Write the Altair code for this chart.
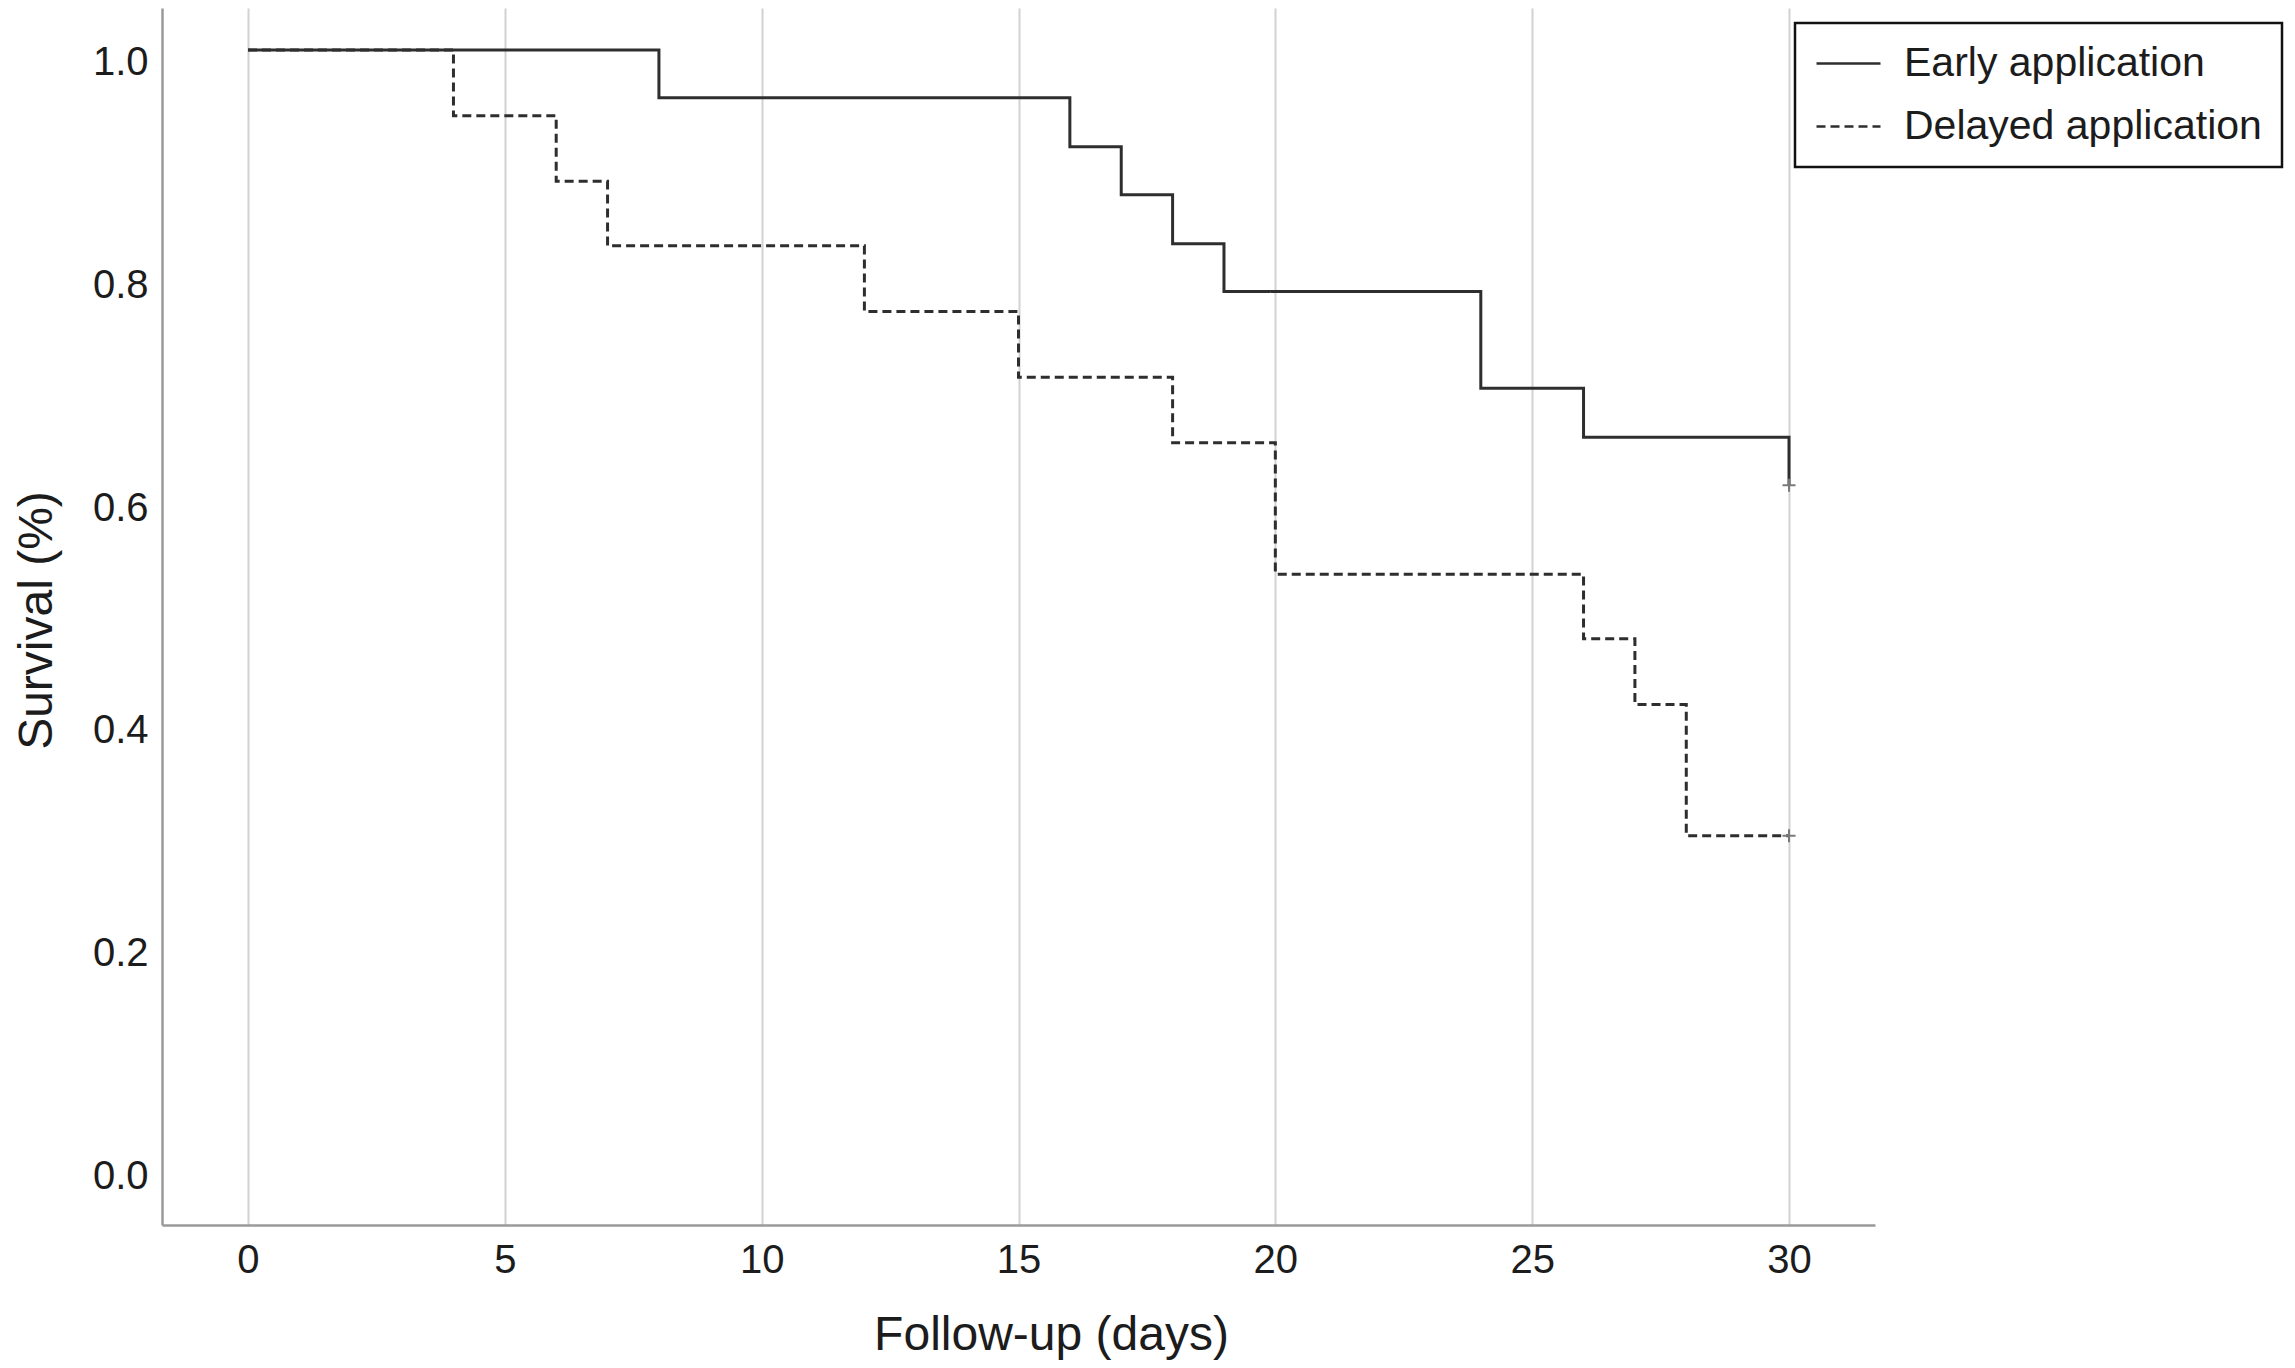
import altair as alt
import pandas as pd

# ---- data ----
groups = ["Early application", "Delayed application"]

early_days = [0, 8, 16, 17, 18, 19, 24, 26, 30]
early_surv = [1.0, 0.957, 0.913, 0.870, 0.826, 0.783, 0.696, 0.652, 0.609]

delayed_days = [0, 4, 6, 7, 12, 15, 18, 20, 26, 27, 28, 30]
delayed_surv = [1.0, 0.941, 0.882, 0.824, 0.765, 0.706, 0.647, 0.529, 0.471, 0.412, 0.294, 0.294]

censor_days = [30, 30]
censor_surv = [0.609, 0.294]

x_ticks = [0, 5, 10, 15, 20, 25, 30]
y_ticks = [0.0, 0.2, 0.4, 0.6, 0.8, 1.0]

FONT = "Liberation Sans"
TEXT = "#1c1c1c"

curves = pd.DataFrame(
    {
        "day": early_days + delayed_days,
        "survival": early_surv + delayed_surv,
        "group": [groups[0]] * len(early_days) + [groups[1]] * len(delayed_days),
    }
)
censor = pd.DataFrame({"day": censor_days, "survival": censor_surv})

x_scale = alt.Scale(domain=[-1.674, 31.674], nice=False, zero=False)
y_scale = alt.Scale(domain=[-0.0557, 1.0377], nice=False, zero=False)

x_axis = alt.Axis(
    values=x_ticks,
    format="d",
    title="Follow-up (days)",
    grid=True,
    gridColor="#d2d2d2",
    gridWidth=2,
    ticks=False,
    tickSize=0,
    labelPadding=15,
    titleX=889,
    titleY=124,
    titleAlign="center",
    titleBaseline="alphabetic",
)
y_axis = alt.Axis(
    values=y_ticks,
    format=".1f",
    title="Survival (%)",
    grid=False,
    ticks=False,
    tickSize=0,
    labelPadding=14,
    labelOffset=13,
    titleAngle=270,
    titleX=-111,
    titleY=612,
    titleAlign="center",
    titleBaseline="alphabetic",
)

lines = (
    alt.Chart(curves)
    .mark_line(interpolate="step-after", strokeWidth=3, color="#2e2e2e", strokeCap="butt")
    .encode(
        x=alt.X("day:Q", scale=x_scale, axis=x_axis),
        y=alt.Y("survival:Q", scale=y_scale, axis=y_axis),
        strokeDash=alt.StrokeDash(
            "group:N",
            scale=alt.Scale(domain=groups, range=[[1, 0], [9, 5]]),
            legend=alt.Legend(
                title=None,
                orient="none",
                legendX=1633,
                legendY=15,
                padding=20,
                strokeColor="#111111",
                fillColor="#ffffff",
                labelFont=FONT,
                labelFontSize=41,
                labelColor=TEXT,
                labelOffset=22,
                labelLimit=0,
                symbolType="stroke",
                symbolSize=4096,
                symbolStrokeWidth=2.5,
                symbolStrokeColor="#2e2e2e",
                clipHeight=41,
                rowPadding=21,
            ),
        ),
    )
)

marks = (
    alt.Chart(censor)
    .mark_point(
        shape="M-1,0L1,0M0,-1L0,1",
        filled=False,
        stroke="#7a7a7a",
        strokeWidth=2,
        size=170,
        opacity=1,
    )
    .encode(
        x=alt.X("day:Q", scale=x_scale, axis=x_axis),
        y=alt.Y("survival:Q", scale=y_scale, axis=y_axis),
    )
)

chart = (
    alt.layer(lines, marks)
    .properties(
        width=1713,
        height=1217,
        autosize=alt.AutoSizeParams(type="none"),
        padding={"left": 154, "top": 0, "right": 412, "bottom": 135},
    )
    .configure_view(strokeWidth=0)
    .configure_legend(strokeWidth=2.5)
    .configure_axis(
        labelFont=FONT,
        labelFontSize=40,
        labelColor=TEXT,
        titleFont=FONT,
        titleFontSize=48,
        titleFontWeight="normal",
        titleColor=TEXT,
        domainColor="#9a9a9a",
        domainWidth=2.5,
    )
)

chart.save("out.html", embed_options={"renderer": "svg", "actions": False})
